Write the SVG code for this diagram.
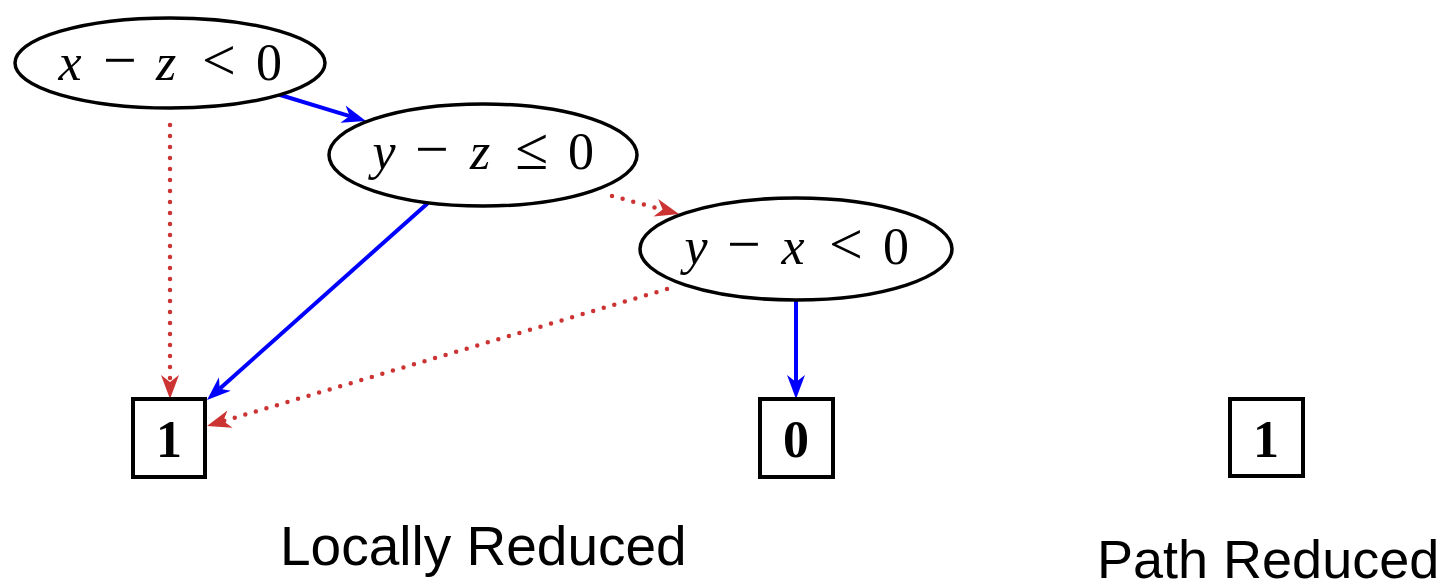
<svg xmlns="http://www.w3.org/2000/svg" width="1441" height="580" viewBox="0 0 1441 580">
  <style>
    .node { fill: #ffffff; stroke: #000000; stroke-width: 3.5; }
    .box { fill: #ffffff; stroke: #000000; stroke-width: 4; }
    .math { font-family: "Liberation Serif", "DejaVu Serif", serif; font-size: 52px; fill: #000000; text-anchor: middle; }
    .var { font-style: italic; }
    .op { font-size: 60px; }
    .term { font-family: "Liberation Serif", "DejaVu Serif", serif; font-size: 52px; font-weight: bold; fill: #000000; text-anchor: middle; }
    .caption { font-family: "Liberation Sans", Arial, sans-serif; font-size: 55px; fill: #000000; }
    .hi { fill: none; stroke: #0000ff; stroke-width: 4; }
    .lo { fill: none; stroke: #cc3333; stroke-width: 4.5; stroke-linecap: round; stroke-dasharray: 0 11; }
  </style>
  <defs>
    <marker id="arrowBlue" markerUnits="userSpaceOnUse" orient="auto" refX="0" refY="0" markerWidth="30" markerHeight="30" overflow="visible">
      <path d="M17,0 L-7,-9 L0,0 L-7,9 Z" fill="#0000ff"/>
    </marker>
    <marker id="arrowRed" markerUnits="userSpaceOnUse" orient="auto" refX="0" refY="0" markerWidth="30" markerHeight="30" overflow="visible">
      <path d="M17,0 L-7,-9 L0,0 L-7,9 Z" fill="#cc3333"/>
    </marker>
  </defs>

  <!-- connectors: solid blue = high branch, dotted red = low branch -->
  <g id="edges">
    <line class="hi" x1="277" y1="94" x2="349.7" y2="116.1" marker-end="url(#arrowBlue)"/>
    <line class="lo" x1="170" y1="125" x2="170" y2="382" marker-end="url(#arrowRed)"/>
    <line class="hi" x1="428" y1="203" x2="219.7" y2="388.7" marker-end="url(#arrowBlue)"/>
    <line class="lo" x1="612" y1="196" x2="662.6" y2="209.6" marker-end="url(#arrowRed)"/>
    <line class="lo" x1="667" y1="289" x2="223.3" y2="421.1" marker-end="url(#arrowRed)"/>
    <line class="hi" x1="796" y1="301" x2="796" y2="382" marker-end="url(#arrowBlue)"/>
  </g>

  <g id="n_xz">
    <ellipse class="node" cx="170" cy="63" rx="155" ry="45"/>
    <text class="math" y="80"><tspan class="var" x="70">x</tspan><tspan class="op" x="120">−</tspan><tspan class="var" x="166">z</tspan><tspan class="op" x="219">&lt;</tspan><tspan x="269">0</tspan></text>
  </g>

  <g id="n_yz">
    <ellipse class="node" cx="483" cy="155" rx="154" ry="51"/>
    <text class="math" y="169"><tspan class="var" x="384">y</tspan><tspan class="op" x="432">−</tspan><tspan class="var" x="480">z</tspan><tspan class="op" x="532">≤</tspan><tspan x="581">0</tspan></text>
  </g>

  <g id="n_yx">
    <ellipse class="node" cx="796" cy="249" rx="156" ry="51"/>
    <text class="math" y="264"><tspan class="var" x="696">y</tspan><tspan class="op" x="744">−</tspan><tspan class="var" x="793">x</tspan><tspan class="op" x="846">&lt;</tspan><tspan x="896">0</tspan></text>
  </g>

  <g id="t_one">
    <rect class="box" x="133" y="399" width="72" height="78"/>
    <text class="term" x="169" y="457">1</text>
  </g>

  <g id="t_zero">
    <rect class="box" x="760" y="399" width="73" height="78"/>
    <text class="term" x="796" y="457">0</text>
  </g>

  <g id="t_one_path">
    <rect class="box" x="1230" y="399" width="73" height="77"/>
    <text class="term" x="1266" y="457">1</text>
  </g>

  <g id="captions">
    <text class="caption" x="280" y="565">Locally Reduced</text>
    <text class="caption" x="1097" y="578" style="font-size:54px">Path Reduced</text>
  </g>
</svg>
